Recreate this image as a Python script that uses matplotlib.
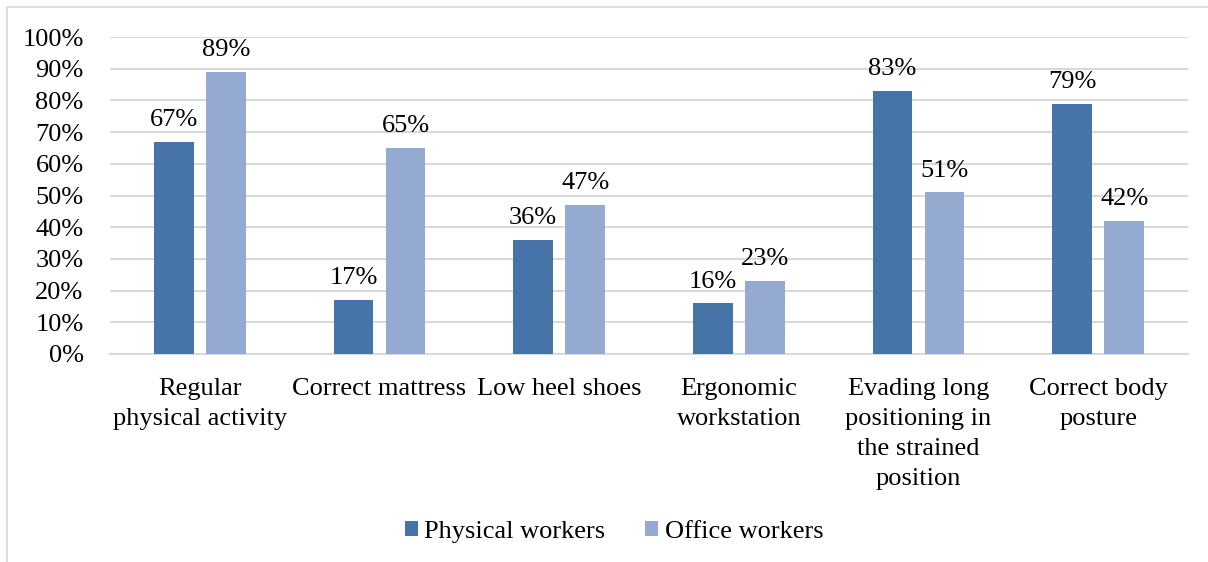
import matplotlib
matplotlib.use("Agg")
import matplotlib.pyplot as plt
import numpy as np
from matplotlib.patches import Rectangle

categories = ["Regular\nphysical activity", "Correct mattress", "Low heel shoes",
              "Ergonomic\nworkstation", "Evading long\npositioning in\nthe strained\nposition",
              "Correct body\nposture"]
physical = [67, 17, 36, 16, 83, 79]
office = [89, 65, 47, 23, 51, 42]
series_names = ["Physical workers", "Office workers"]
yticks = [0, 10, 20, 30, 40, 50, 60, 70, 80, 90, 100]

FS = 19
plt.rcParams['font.family'] = ['Liberation Serif', 'DejaVu Serif']
plt.rcParams['font.size'] = FS

fig = plt.figure(figsize=(12.08, 5.62), dpi=100)
ax = fig.add_axes([110/1208, 1-354/562, (1188-110)/1208, (354-37)/562])

x = np.arange(len(categories))
w = 0.222
off = 0.145
c1, c2 = '#4674A8', '#95AAD1'
b1 = ax.bar(x - off, physical, w, color=c1, label=series_names[0], zorder=3)
b2 = ax.bar(x + off, office, w, color=c2, label=series_names[1], zorder=3)

for xi, v in zip(x, physical):
    ax.text(xi - off, v + 3.4, f"{v}%", ha='center', va='bottom', fontsize=FS)
for xi, v in zip(x, office):
    ax.text(xi + off, v + 3.4, f"{v}%", ha='center', va='bottom', fontsize=FS)

ax.set_xlim(-0.5, len(categories) - 0.5)
ax.set_ylim(0, 100)
ax.set_yticks(yticks)
ax.set_yticklabels([f"{t}%" for t in yticks])
ax.yaxis.grid(True, color='#D9D9D9', linewidth=1.5, zorder=0)
ax.set_axisbelow(True)
ax.set_xticks(x)
ax.set_xticklabels(categories, linespacing=1.47, va='top')
ax.tick_params(axis='both', length=0, labelsize=FS)
ax.tick_params(axis='x', pad=17)
ax.tick_params(axis='y', pad=19)
for s in ['top', 'right', 'left']:
    ax.spines[s].set_visible(False)
ax.spines['bottom'].set_color('#D9D9D9')
ax.spines['bottom'].set_linewidth(1.5)

fig.legend(handles=[b1, b2], labels=series_names, loc='center', bbox_to_anchor=(614/1208, 1-532/562),
           ncol=2, frameon=False, fontsize=FS, handlelength=0.5, handleheight=0.5,
           handletextpad=0.25, columnspacing=1.5)

fig.patches.append(Rectangle((7/1208, -0.1), 1.2, 1 - 7/562 + 0.1, transform=fig.transFigure,
                             fill=False, edgecolor='#D9D9D9', linewidth=1.2))
fig.savefig("out.png", dpi=100)
